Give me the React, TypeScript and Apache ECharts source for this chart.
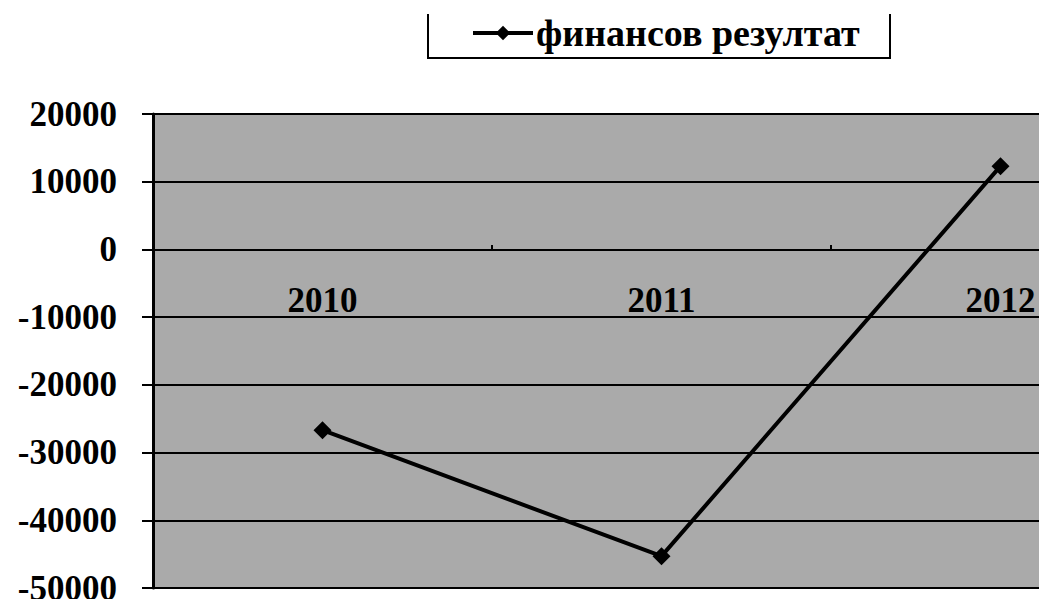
import React, { useEffect, useRef } from "react";
import * as echarts from "echarts";

const categories = ["2010", "2011", "2012"];
const seriesName = "финансов резултат";
const values = [-26700, -45300, 12300];
const yMin = -50000;
const yMax = 20000;
const yInterval = 10000;

export default function App() {
  const ref = useRef<HTMLDivElement>(null);
  useEffect(() => {
    document.body.style.margin = "0";
    const chart = echarts.init(ref.current!, undefined, { renderer: "svg" });
    const font = "Liberation Serif";
    chart.setOption({
      animation: false,
      backgroundColor: "#ffffff",
      legend: {
        data: [seriesName],
        left: 466,
        top: 9,
        itemWidth: 60,
        itemHeight: 18,
        itemStyle: { color: "#000" },
        lineStyle: { color: "#000", width: 4 },
        textStyle: { fontFamily: font, fontWeight: "bold", fontSize: 38, color: "#000", padding: [0, 0, 0, -2] },
      },
      graphic: [
        {
          type: "polyline",
          shape: { points: [[428, 14], [428, 58], [890, 58], [890, 14]] },
          style: { stroke: "#000", lineWidth: 2, fill: null },
        },
      ],
      grid: {
        left: 153,
        top: 114,
        height: 474,
        width: 1017,
        show: true,
        backgroundColor: "#aaaaaa",
        borderWidth: 0,
        containLabel: false,
        outerBoundsMode: "none",
      },
      xAxis: {
        type: "category",
        data: categories,
        boundaryGap: true,
        position: "bottom",
        offset: -338,
        axisLine: { onZero: false, lineStyle: { color: "#000", width: 2 } },
        axisTick: { show: true, length: 5, inside: true, lineStyle: { color: "#000", width: 2 } },
        axisLabel: {
          margin: 33,
          fontFamily: font,
          fontWeight: "bold",
          fontSize: 35,
          color: "#000",
        },
        splitLine: { show: false },
      },
      yAxis: {
        type: "value",
        min: yMin,
        max: yMax,
        interval: yInterval,
        axisLine: { show: true, lineStyle: { color: "#000", width: 3 } },
        axisTick: { show: true, length: 11, lineStyle: { color: "#000", width: 2 } },
        axisLabel: {
          margin: 36,
          fontFamily: font,
          fontWeight: "bold",
          fontSize: 35,
          color: "#000",
          formatter: (v: number) => String(v),
        },
        splitLine: { show: true, lineStyle: { color: "#000", width: 2 } },
      },
      series: [
        {
          name: seriesName,
          type: "line",
          data: values,
          symbol: "diamond",
          symbolSize: 18,
          lineStyle: { color: "#000", width: 4 },
          itemStyle: { color: "#000" },
        },
      ],
    });
    return () => chart.dispose();
  }, []);
  return <div ref={ref} style={{ width: 1039, height: 599 }} />;
}
